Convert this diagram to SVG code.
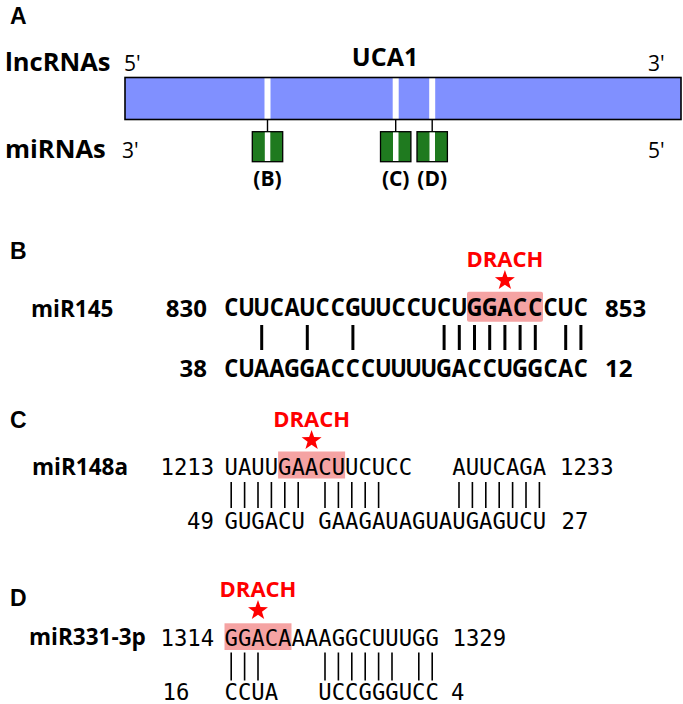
<svg xmlns="http://www.w3.org/2000/svg" xmlns:xlink="http://www.w3.org/1999/xlink" width="683" height="704" viewBox="0 0 683 704">
<style>
text{fill:#000}
.os{font-family:"Open Sans","Liberation Sans",sans-serif;font-weight:bold}
.osn{font-family:"Open Sans","Liberation Sans",sans-serif;font-size:21px}
.pan{font-family:"Liberation Sans",Arial,sans-serif;font-weight:bold;font-size:23px}
.mono{font-family:"DejaVu Sans Mono","Liberation Mono",monospace;font-size:22.25px}
.drach{fill:#ff0000;font-size:22px;text-anchor:middle}
.hl{fill:#f5a3a3}
.star{fill:#ff0000}
.pb{stroke:#000;stroke-width:3}
.pt{stroke:#000;stroke-width:1.6}
.mir{fill:#1f7a1f;stroke:#000;stroke-width:1.3}
.stripe{fill:#fff}
.conn{stroke:#000;stroke-width:1.4}
</style>
<defs>
<path id="star" d="M0,-10.5 L2.469,-3.398 L9.986,-3.245 L3.994,1.298 L6.172,8.495 L0,4.2 L-6.172,8.495 L-3.994,1.298 L-9.986,-3.245 L-2.469,-3.398 Z"/>
</defs>

<g id="panelA">
<text class="pan" x="10" y="24">A</text>
<text class="os" x="5" y="71" font-size="25.5">lncRNAs</text>
<text class="os" x="5" y="158" font-size="25.5">miRNAs</text>
<text class="osn" x="124" y="71">5'</text>
<text class="osn" x="648" y="71">3'</text>
<text class="osn" x="122" y="158">3'</text>
<text class="osn" x="648" y="158">5'</text>
<text class="os" x="385" y="66" font-size="25" text-anchor="middle">UCA1</text>
</g>

<g id="uca1">
<rect x="125" y="77.5" width="556" height="42" fill="#8090ff"/>
<rect class="stripe" x="264.5" y="78" width="6" height="41"/>
<rect class="stripe" x="392.7" y="78" width="6" height="41"/>
<rect class="stripe" x="429.2" y="78" width="6" height="41"/>
<rect x="125" y="77.5" width="556" height="42" fill="none" stroke="#000" stroke-width="1.6"/>
</g>

<g id="connectors">
<line class="conn" x1="267.5" y1="119.5" x2="267.5" y2="131.7"/>
<line class="conn" x1="395.7" y1="119.5" x2="395.7" y2="131.7"/>
<line class="conn" x1="432.2" y1="119.5" x2="432.2" y2="131.7"/>
</g>

<g id="mirB">
<rect class="mir" x="252.3" y="131.7" width="30.4" height="30"/>
<rect class="stripe" x="264.8" y="132.4" width="5.5" height="28.6"/>
<text class="os" x="267.5" y="186" font-size="21" text-anchor="middle">(B)</text>
</g>
<g id="mirC">
<rect class="mir" x="380.5" y="131.7" width="30.4" height="30"/>
<rect class="stripe" x="393" y="132.4" width="5.5" height="28.6"/>
<text class="os" x="395.7" y="186" font-size="21" text-anchor="middle">(C)</text>
</g>
<g id="mirD">
<rect class="mir" x="417" y="131.7" width="30.4" height="30"/>
<rect class="stripe" x="429.5" y="132.4" width="5.5" height="28.6"/>
<text class="os" x="432.2" y="186" font-size="21" text-anchor="middle">(D)</text>
</g>

<g id="panelB">
<text class="pan" x="10" y="259">B</text>
<text class="os drach" x="504.9" y="266.5">DRACH</text>
<use xlink:href="#star" class="star" x="504.9" y="280.5"/>
<rect class="hl" x="467" y="291.7" width="76" height="30" rx="2"/>
<text class="os" x="31" y="317" font-size="22.5">miR145</text>
<text class="os" x="207" y="317" font-size="24" text-anchor="end">830</text>
<text class="os" x="605" y="317" font-size="24">853</text>
<text class="os" x="207" y="377" font-size="24" text-anchor="end">38</text>
<text class="os" x="605" y="377" font-size="24">12</text>
<g transform="scale(0.9 1)">
<text class="os" font-size="24.5" text-anchor="middle" y="316.5" x="257.00 273.89 290.78 307.67 324.56 341.44 358.33 375.22 392.11 409.00 425.89 442.78 459.67 476.56 493.44 510.33 527.22 544.11 561.00 577.89 594.78 611.67 628.56 645.44">CUUCAUCCGUUCCUCUGGACCCUC</text>
<text class="os" font-size="24.5" text-anchor="middle" y="377" x="257.00 273.89 290.78 307.67 324.56 341.44 358.33 375.22 392.11 409.00 425.89 442.78 459.67 476.56 493.44 510.33 527.22 544.11 561.00 577.89 594.78 611.67 628.56 645.44">CUAAGGACCCUUUUGACCUGGCAC</text>
</g>
<g class="pb">
<line x1="261.7" y1="325" x2="261.7" y2="350"/>
<line x1="307.3" y1="325" x2="307.3" y2="350"/>
<line x1="352.9" y1="325" x2="352.9" y2="350"/>
<line x1="444.1" y1="325" x2="444.1" y2="350"/>
<line x1="459.3" y1="325" x2="459.3" y2="350"/>
<line x1="474.5" y1="325" x2="474.5" y2="350"/>
<line x1="489.7" y1="325" x2="489.7" y2="350"/>
<line x1="504.9" y1="325" x2="504.9" y2="350"/>
<line x1="520.1" y1="325" x2="520.1" y2="350"/>
<line x1="535.3" y1="325" x2="535.3" y2="350"/>
<line x1="565.7" y1="325" x2="565.7" y2="350"/>
<line x1="580.9" y1="325" x2="580.9" y2="350"/>
</g>
</g>

<g id="panelC">
<text class="pan" x="10" y="428">C</text>
<text class="os drach" x="311.6" y="426.5">DRACH</text>
<use xlink:href="#star" class="star" x="311.6" y="440.5"/>
<rect class="hl" x="278.1" y="451.5" width="67" height="27"/>
<text class="os" x="32" y="474.5" font-size="22.5">miR148a</text>
<text class="mono" x="160.5" y="474.5">1213</text>
<text class="mono" x="224.5" y="474.5">UAUUGAACUUCUCC</text>
<text class="mono" x="452.3" y="474.5">AUUCAGA</text>
<text class="mono" x="560" y="474.5">1233</text>
<text class="mono" x="187" y="529">49</text>
<text class="mono" x="224.5" y="529">GUGACU</text>
<text class="mono" x="318.3" y="529">GAAGAUAGUAUGAGUCU</text>
<text class="mono" x="561.5" y="529">27</text>
<g class="pt">
<line x1="231.2" y1="482" x2="231.2" y2="508"/>
<line x1="244.6" y1="482" x2="244.6" y2="508"/>
<line x1="258.0" y1="482" x2="258.0" y2="508"/>
<line x1="271.4" y1="482" x2="271.4" y2="508"/>
<line x1="284.8" y1="482" x2="284.8" y2="508"/>
<line x1="298.2" y1="482" x2="298.2" y2="508"/>
<line x1="325.0" y1="482" x2="325.0" y2="508"/>
<line x1="338.4" y1="482" x2="338.4" y2="508"/>
<line x1="351.8" y1="482" x2="351.8" y2="508"/>
<line x1="365.2" y1="482" x2="365.2" y2="508"/>
<line x1="378.6" y1="482" x2="378.6" y2="508"/>
<line x1="459.0" y1="482" x2="459.0" y2="508"/>
<line x1="472.4" y1="482" x2="472.4" y2="508"/>
<line x1="485.8" y1="482" x2="485.8" y2="508"/>
<line x1="499.2" y1="482" x2="499.2" y2="508"/>
<line x1="512.6" y1="482" x2="512.6" y2="508"/>
<line x1="526.0" y1="482" x2="526.0" y2="508"/>
<line x1="539.4" y1="482" x2="539.4" y2="508"/>
</g>
</g>

<g id="panelD">
<text class="pan" x="10" y="606">D</text>
<text class="os drach" x="258" y="596.5">DRACH</text>
<use xlink:href="#star" class="star" x="258" y="610.5"/>
<rect class="hl" x="224.5" y="623.3" width="67" height="26.7"/>
<text class="os" x="29" y="645" font-size="22.5">miR331-3p</text>
<text class="mono" x="160.5" y="646">1314</text>
<text class="mono" x="224.5" y="646">GGACAAAAGGCUUUGG</text>
<text class="mono" x="452.5" y="646">1329</text>
<text class="mono" x="162.5" y="700">16</text>
<text class="mono" x="224.5" y="700">CCUA</text>
<text class="mono" x="318.3" y="700">UCCGGGUCC</text>
<text class="mono" x="451" y="700">4</text>
<g class="pt">
<line x1="231.2" y1="652.5" x2="231.2" y2="680.5"/>
<line x1="244.6" y1="652.5" x2="244.6" y2="680.5"/>
<line x1="258.0" y1="652.5" x2="258.0" y2="680.5"/>
<line x1="325.0" y1="652.5" x2="325.0" y2="680.5"/>
<line x1="338.4" y1="652.5" x2="338.4" y2="680.5"/>
<line x1="351.8" y1="652.5" x2="351.8" y2="680.5"/>
<line x1="365.2" y1="652.5" x2="365.2" y2="680.5"/>
<line x1="378.6" y1="652.5" x2="378.6" y2="680.5"/>
<line x1="392.0" y1="652.5" x2="392.0" y2="680.5"/>
<line x1="418.8" y1="652.5" x2="418.8" y2="680.5"/>
<line x1="432.2" y1="652.5" x2="432.2" y2="680.5"/>
</g>
</g>
</svg>
